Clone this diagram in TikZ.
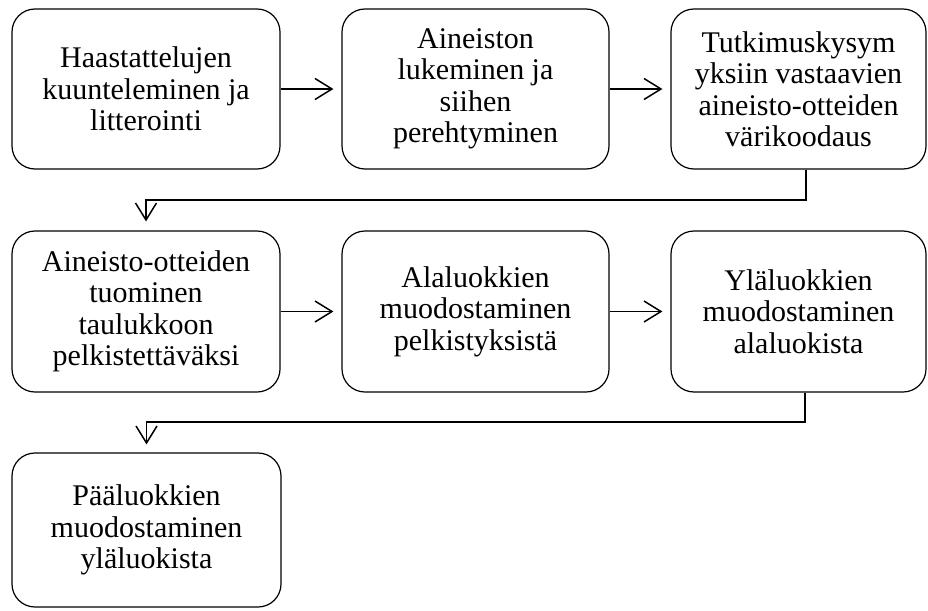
\documentclass[tikz,border=0pt]{standalone}
\usepackage{fontspec}
\setmainfont{Liberation Serif}
\usetikzlibrary{arrows.meta}
\tikzset{
  stepbox/.style={draw, line width=1.2pt, rounded corners=23pt, align=center,
    font=\fontsize{30}{31.5}\selectfont, inner sep=0pt},
  conn/.style={line width=1.5pt, -{Straight Barb[length=17pt,width=21pt,line width=1.5pt]}},
}
\begin{document}
\begin{tikzpicture}[x=1pt,y=-1pt]
\useasboundingbox (0,0) rectangle (928,610);
\node[stepbox, minimum width=268pt, minimum height=160pt] (b1) at (146,89)
  {Haastattelujen\\kuunteleminen ja\\litterointi};
\node[stepbox, minimum width=267pt, minimum height=160pt] (b2) at (475.5,89)
  {Aineiston\\lukeminen ja\\siihen\\perehtyminen};
\node[stepbox, minimum width=255pt, minimum height=160pt] (b3) at (798.5,89)
  {Tutkimuskysym\\yksiin vastaavien\\aineisto-otteiden\\värikoodaus};
\node[stepbox, minimum width=268pt, minimum height=161pt] (b4) at (146,311.5)
  {Aineisto-otteiden\\tuominen\\taulukkoon\\pelkistettäväksi};
\node[stepbox, minimum width=267pt, minimum height=161pt] (b5) at (475.5,311.5)
  {Alaluokkien\\muodostaminen\\pelkistyksistä};
\node[stepbox, minimum width=255pt, minimum height=161pt] (b6) at (798.5,311.5)
  {Yläluokkien\\muodostaminen\\alaluokista};
\node[stepbox, minimum width=269pt, minimum height=154pt] (b7) at (146.5,530)
  {Pääluokkien\\muodostaminen\\yläluokista};
\draw[conn, shorten >=8pt] (b1.east) -- (b2.west);
\draw[conn, shorten >=8pt] (b2.east) -- (b3.west);
\draw[conn, shorten >=8pt] (b4.east) -- (b5.west);
\draw[conn, shorten >=8pt] (b5.east) -- (b6.west);
\coordinate (k1) at (806,200);
\coordinate (k2) at (805,422);
\draw[conn, shorten >=9pt] (b3.south -| k1) -- (k1) -| (b4.north);
\draw[conn, shorten >=8pt] (b6.south -| k2) -- (k2) -| (b7.north);
\end{tikzpicture}
\end{document}
